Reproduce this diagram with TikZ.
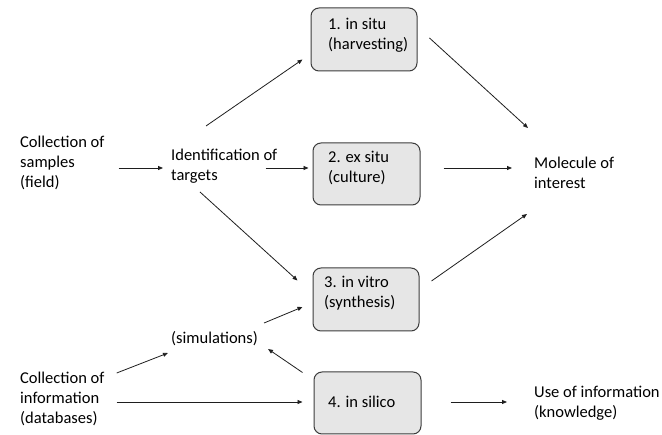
\documentclass[tikz,border=0pt]{standalone}
\usepackage{fontspec}
\setmainfont{Carlito}
\usetikzlibrary{calc,arrows.meta}
\definecolor{boxfill}{RGB}{230,230,230}
\definecolor{boxline}{RGB}{60,60,60}
\definecolor{arrline}{RGB}{30,30,30}
\begin{document}
\begin{tikzpicture}[x=1pt,y=-1pt,
  txt/.style={anchor=west,align=left,inner sep=0pt,font=\fontsize{16.5}{20}\selectfont},
  stagebox/.style={draw=boxline,fill=boxfill,line width=1pt,rounded corners=8pt,minimum width=106pt,minimum height=63pt,inner sep=0pt},
  arr/.style={draw=arrline,line width=0.8pt,-{Triangle[length=5pt,width=4pt]}}]
\useasboundingbox (0,0) rectangle (662,435);
% boxes
\node[stagebox] (b1) at (364,39.5) {};
\node[stagebox,minimum width=107pt,minimum height=62pt] (b2) at (366.5,174) {};
\node[stagebox] (b3) at (366,299.5) {};
\node[stagebox,minimum width=107pt,minimum height=62pt] (b4) at (367.5,403) {};
% box texts
\node[txt] (t1) at (328,35.5) {1. in situ\\(harvesting)};
\node[txt] (t2) at (328,168) {2. ex situ\\(culture)};
\node[txt] (t3) at (324,293) {3. in vitro\\(synthesis)};
\node[txt] (t4) at (328,402) {4. in silico};
% free texts
\node[txt] (samp) at (20,163) {Collection of\\samples\\(field)};
\node[txt] (ident) at (171,166.5) {Identification of\\targets};
\node[txt] (mol) at (534,173) {Molecule of\\interest};
\node[txt] (sim) at (171,339) {(simulations)};
\node[txt] (info) at (20,399) {Collection of\\information\\(databases)};
\node[txt] (use) at (534,403) {Use of information\\(knowledge)};
% arrows
\draw[arr] ($(samp.east)+(14,5)$) -- ($(ident.west)+(-8,1.5)$);
\draw[arr] ($(ident.east)+(-12,1.5)$) -- ($(b2.west)+(-4,-6)$);
\draw[arr] ($(ident.west)+(35,-40.5)$) -- ($(b1.south west)+(-8,-12)$);
\draw[arr] ($(ident.west)+(29,25.5)$) -- ($(b3.north west)+(-15,13)$);
\draw[arr] ($(b1.east)+(12,-1.5)$) -- ($(mol.west)+(-6,-45)$);
\draw[arr] ($(b2.east)+(23,-6)$) -- ($(mol.west)+(-22,-5)$);
\draw[arr] ($(b3.east)+(12,-18.5)$) -- ($(mol.west)+(-7,41)$);
\draw[arr] ($(sim.east)+(6,-16)$) -- ($(b3.west)+(-10,7.5)$);
\draw[arr] ($(info.east)+(12,-26)$) -- ($(sim.west)+(-3,14)$);
\draw[arr] ($(b4.north west)+(-11,1)$) -- ($(sim.east)+(10,10)$);
\draw[arr] ($(info.east)+(12,3)$) -- ($(b4.west)+(-11,-1)$);
\draw[arr] ($(b4.east)+(29,-1)$) -- ($(use.west)+(-27,-1)$);
\end{tikzpicture}
\end{document}
